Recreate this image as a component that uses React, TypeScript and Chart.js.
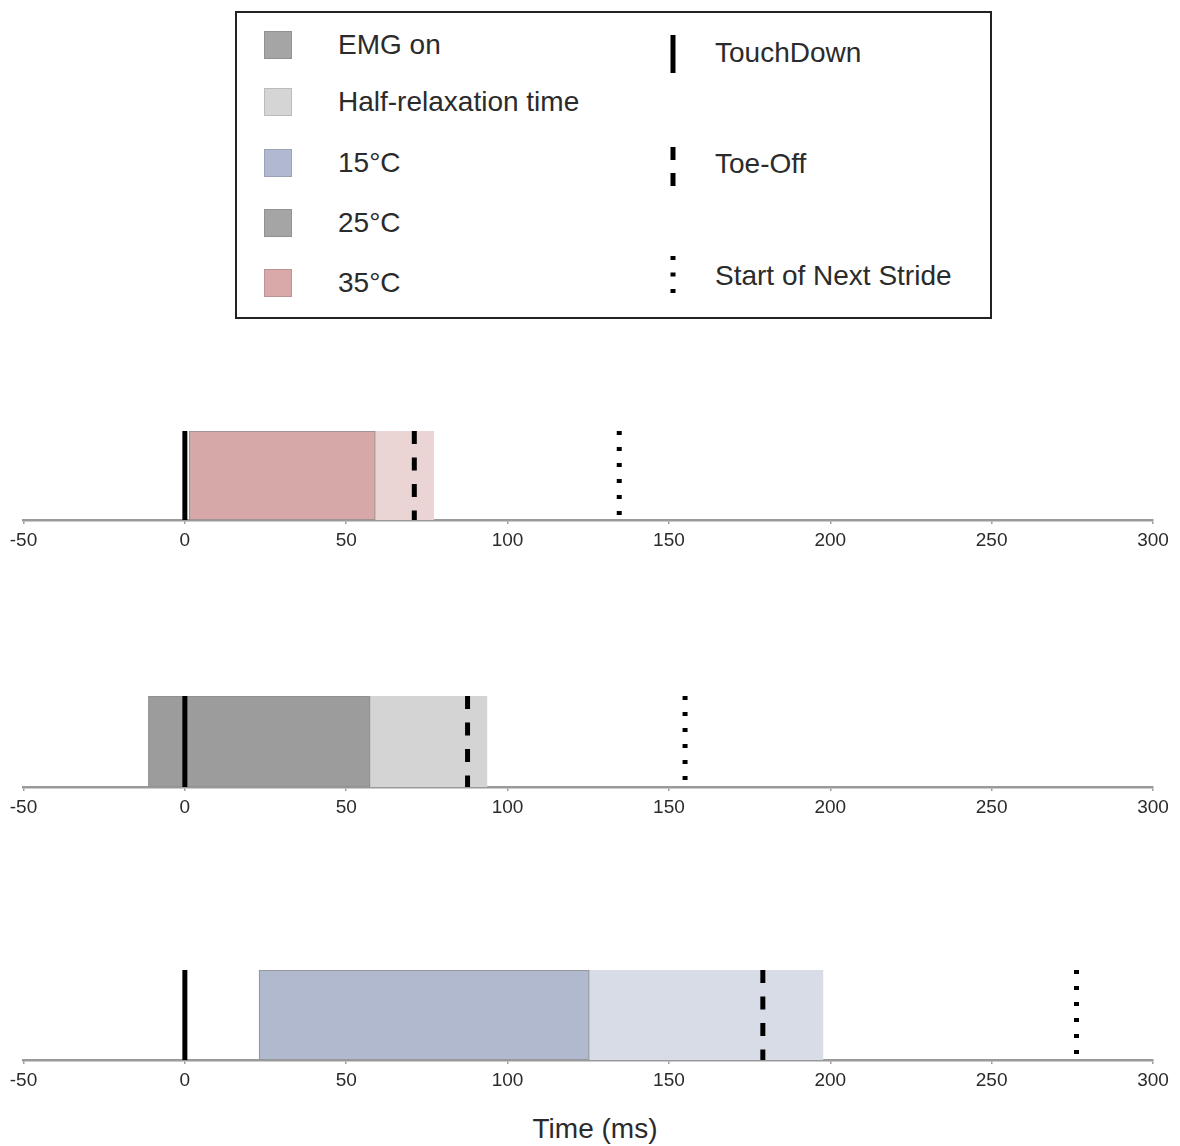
import React, { useEffect, useRef } from 'react';
import { Chart, registerables } from 'chart.js';

Chart.register(...registerables);

// ---- data ----
const temperatures = ['35°C', '25°C', '15°C'];
const emgOnStart = [1.4, -11.3, 23.0];
const emgOnEnd = [59.0, 57.4, 125.3];
const halfRelaxEnd = [77.1, 93.6, 197.7];
const touchDown = [0, 0, 0];
const toeOff = [71.1, 87.6, 179.1];
const nextStride = [134.6, 155.0, 276.3];
const xMin = -50;
const xMax = 300;
const xStep = 50;
const axisTitle = 'Time (ms)';

const legendBars = ['EMG on', 'Half-relaxation time', '15°C', '25°C', '35°C'];
const legendLines = ['TouchDown', 'Toe-Off', 'Start of Next Stride'];

// ---- styles ----
const emgColors = ['#d7a8a8', '#9c9c9c', '#b1b9cf'];
const halfColors = ['#ebd4d4', '#d4d4d4', '#d7dce7'];
const legendBarColors = ['#a5a5a5', '#d5d5d5', '#b1b9d0', '#a5a5a5', '#d9a8a8'];
const FONT = '"Liberation Sans", Arial, Helvetica, sans-serif';
const TEXT = '#2b2b2b';

const panelLayout = [
  { top: 431, barH: 89 },
  { top: 696, barH: 91 },
  { top: 970, barH: 90 },
];
const AXIS_H = 40;

function Panel({ index }: { index: number }) {
  const ref = useRef<HTMLCanvasElement | null>(null);
  const { top, barH } = panelLayout[index];

  useEffect(() => {
    if (!ref.current) return;
    const vLine = (x: number, dash: number[], label: string) => ({
      type: 'line' as const,
      label,
      data: [
        { x, y: 1 },
        { x, y: 0 },
      ],
      borderColor: '#000',
      borderWidth: 5,
      borderDash: dash,
      borderCapStyle: 'butt' as const,
      pointRadius: 0,
      fill: false,
      tension: 0,
      order: 1,
    });
    const chart = new Chart(ref.current, {
      type: 'bar',
      data: {
        datasets: [
          {
            type: 'bar',
            label: 'EMG on ' + temperatures[index],
            data: [{ y: 0.5, x: [emgOnStart[index], emgOnEnd[index]] }],
            backgroundColor: emgColors[index],
            borderColor: '#8e8e8e',
            borderWidth: 1,
            borderSkipped: false,
            barThickness: barH,
            grouped: false,
            order: 2,
          } as any,
          {
            type: 'bar',
            label: 'Half-relaxation time ' + temperatures[index],
            data: [{ y: 0.5, x: [emgOnEnd[index], halfRelaxEnd[index]] }],
            backgroundColor: halfColors[index],
            borderWidth: 0,
            barThickness: barH,
            grouped: false,
            order: 3,
          } as any,
          vLine(touchDown[index], [], 'TouchDown') as any,
          vLine(toeOff[index], [13, 13.5], 'Toe-Off') as any,
          vLine(nextStride[index], [4, 12], 'Start of Next Stride') as any,
        ],
      },
      options: {
        indexAxis: 'y',
        animation: false,
        responsive: false,
        maintainAspectRatio: false,
        layout: { padding: { left: 23.5, right: 27, top: 0, bottom: 0 } },
        plugins: { legend: { display: false }, tooltip: { enabled: false } },
        scales: {
          x: {
            type: 'linear',
            min: xMin,
            max: xMax,
            position: 'bottom',
            ticks: {
              stepSize: xStep,
              font: { family: FONT, size: 19 },
              color: TEXT,
              padding: 5,
              maxRotation: 0,
              autoSkip: false,
            },
            grid: {
              display: true,
              drawOnChartArea: false,
              drawTicks: true,
              tickLength: 4,
              color: '#a0a0a0',
              lineWidth: 1.5,
            },
            border: { display: true, color: '#9a9a9a', width: 2.5 },
            afterFit: (s: any) => {
              s.height = AXIS_H;
            },
          },
          y: { type: 'linear', min: 0, max: 1, display: false, offset: false },
        },
      } as any,
    });
    return () => chart.destroy();
  }, [index, barH]);

  return (
    <canvas
      ref={ref}
      width={1180}
      height={barH + AXIS_H}
      style={{ position: 'absolute', left: 0, top, width: 1180, height: barH + AXIS_H }}
    />
  );
}

const legendBarCenters = [45, 102, 163, 223, 283];
const legendLineCenters = [53, 164, 276];

function LineMarker({ kind, center }: { kind: number; center: number }) {
  const span = kind === 0 ? [35, 73] : kind === 1 ? [147, 187] : [256, 297];
  const dash = kind === 0 ? undefined : kind === 1 ? '13 13' : '4 12.5';
  return (
    <svg
      style={{ position: 'absolute', left: 665, top: span[0], overflow: 'visible' }}
      width={16}
      height={span[1] - span[0]}
    >
      <line
        x1={8}
        x2={8}
        y1={0}
        y2={span[1] - span[0]}
        stroke="#000"
        strokeWidth={5}
        strokeDasharray={dash}
      />
    </svg>
  );
}

export default function App() {
  return (
    <div
      style={{
        position: 'absolute',
        left: 0,
        top: 0,
        width: 1180,
        height: 1146,
        background: '#fff',
        fontFamily: FONT,
        color: TEXT,
      }}
    >
      {/* legend box */}
      <div
        style={{
          position: 'absolute',
          left: 235,
          top: 11,
          width: 757,
          height: 308,
          boxSizing: 'border-box',
          border: '2.5px solid #222',
        }}
      />
      {legendBars.map((t, i) => (
        <React.Fragment key={t}>
          <div
            style={{
              position: 'absolute',
              left: 264,
              top: legendBarCenters[i] - 14,
              width: 28,
              height: 28,
              boxSizing: 'border-box',
              background: legendBarColors[i],
              border: '1px solid rgba(0,0,0,0.12)',
            }}
          />
          <div
            style={{
              position: 'absolute',
              left: 338,
              top: legendBarCenters[i] - 16,
              fontSize: 28,
              lineHeight: '32px',
              whiteSpace: 'nowrap',
            }}
          >
            {t}
          </div>
        </React.Fragment>
      ))}
      {legendLines.map((t, i) => (
        <React.Fragment key={t}>
          <LineMarker kind={i} center={legendLineCenters[i]} />
          <div
            style={{
              position: 'absolute',
              left: 715,
              top: legendLineCenters[i] - 16,
              fontSize: 28,
              lineHeight: '32px',
              whiteSpace: 'nowrap',
            }}
          >
            {t}
          </div>
        </React.Fragment>
      ))}

      {temperatures.map((t, i) => (
        <Panel key={t} index={i} />
      ))}

      <div
        style={{
          position: 'absolute',
          left: 0,
          width: 1190,
          top: 1113,
          textAlign: 'center',
          fontSize: 28,
          lineHeight: '32px',
        }}
      >
        {axisTitle}
      </div>
    </div>
  );
}
